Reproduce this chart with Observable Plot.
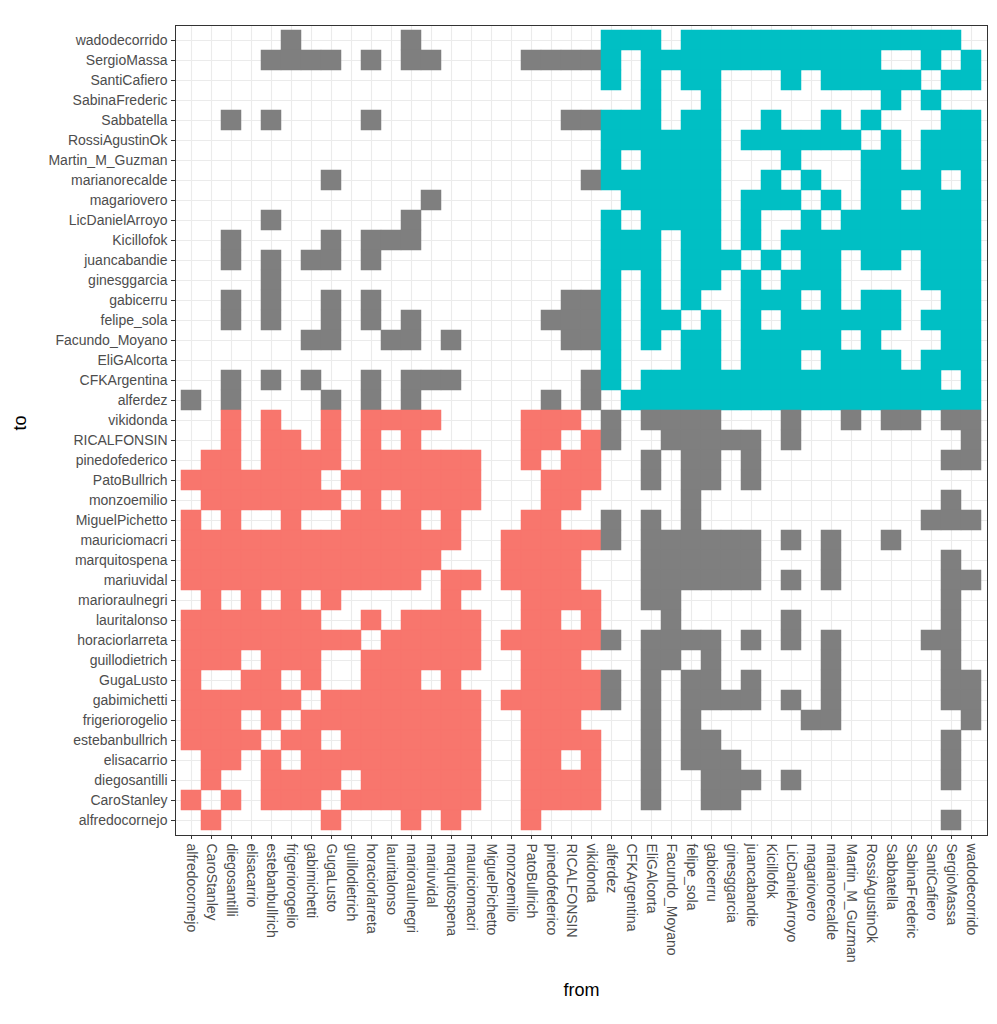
<!DOCTYPE html>
<html><head><meta charset="utf-8">
<script src="https://cdn.jsdelivr.net/npm/d3@7"></script>
<script src="https://cdn.jsdelivr.net/npm/@observablehq/plot@0.6"></script>
<style>body{margin:0;background:#fff}</style>
</head><body><div id="chart"></div>
<script>
// group A (first 21) and group B (last 19), axis order
const groupA = ["alfredocornejo","CaroStanley","diegosantilli","elisacarrio","estebanbullrich","frigeriorogelio","gabimichetti","GugaLusto","guillodietrich","horaciorlarreta","lauritalonso","marioraulnegri","mariuvidal","marquitospena","mauriciomacri","MiguelPichetto","monzoemilio","PatoBullrich","pinedofederico","RICALFONSIN","vikidonda"];
const groupB = ["alferdez","CFKArgentina","EliGAlcorta","Facundo_Moyano","felipe_sola","gabicerru","ginesggarcia","juancabandie","Kicillofok","LicDanielArroyo","magariovero","marianorecalde","Martin_M_Guzman","RossiAgustinOk","Sabbatella","SabinaFrederic","SantiCafiero","SergioMassa","wadodecorrido"];
const nodes = groupA.concat(groupB);
// "to" rows, top to bottom
const toRows = nodes.slice().reverse();
// for each "to" row (top to bottom): indices into nodes of the "from" accounts with a link
const fromLinks = [
 [5,11,21,22,23,25,26,27,28,29,30,31,32,33,34,35,36,37,38],
 [4,5,6,7,9,11,12,17,18,19,20,21,23,24,25,26,27,28,29,30,31,32,33,34,37,39],
 [21,23,25,26,30,32,33,34,35,36,38,39],
 [23,26,35,37],
 [2,4,9,19,20,21,22,23,25,26,29,32,34,38,39],
 [21,22,23,24,25,26,28,29,30,31,32,33,35,37,38,39],
 [21,23,24,25,26,30,34,35,37,38,39],
 [7,20,21,22,23,24,25,26,29,31,34,35,36,37,39],
 [12,22,23,24,25,26,28,29,30,32,34,35,37,38,39],
 [4,11,21,23,24,25,26,28,31,33,34,35,36,37,38,39],
 [2,7,9,10,11,21,22,23,25,26,28,30,31,32,33,34,35,36,37,38,39],
 [2,4,6,7,9,21,22,23,25,26,27,29,31,32,34,35,37,38,39],
 [4,21,23,25,26,28,30,31,32,37,38,39],
 [2,4,7,9,19,20,21,23,25,28,29,30,32,34,35,38,39],
 [2,4,7,9,11,18,19,20,21,23,24,26,28,30,31,32,33,34,35,37,38,39],
 [6,7,10,11,13,19,20,21,23,25,26,28,29,30,31,32,34,38,39],
 [21,25,26,28,29,30,32,33,34,35,37,38,39],
 [2,4,6,9,11,12,13,20,21,23,24,25,26,27,28,29,30,31,32,33,34,35,36,37,39],
 [0,2,7,9,11,18,20,22,23,24,25,26,27,28,29,30,31,32,33,34,35,36,37,38,39],
 [2,4,7,9,10,11,12,17,18,19,21,23,24,25,26,30,33,35,36,38,39],
 [2,4,5,7,9,11,17,18,20,21,24,25,26,27,28,30,39],
 [1,2,4,5,6,7,9,10,11,12,13,14,17,19,20,23,25,26,28,38,39],
 [0,1,2,3,4,5,6,8,9,10,11,12,13,14,18,19,20,23,25,26,28],
 [1,2,3,4,5,6,7,9,11,12,13,14,18,19,25,38],
 [0,2,5,8,9,10,11,13,17,18,21,23,25,37,38,39],
 [0,1,2,3,4,5,6,7,8,9,10,11,12,13,16,17,18,19,20,21,23,24,25,26,27,28,30,32,35],
 [0,1,2,3,4,5,6,7,8,9,10,11,12,16,17,18,19,23,24,25,26,27,28,32,38],
 [0,1,2,3,4,5,6,7,8,9,10,11,13,14,16,17,18,19,23,24,25,26,27,28,30,32,38,39],
 [1,3,5,7,13,17,18,19,20,23,24,38],
 [0,1,2,3,4,5,6,9,11,12,13,14,17,18,20,24,30,38],
 [0,1,2,3,4,5,6,7,8,10,11,12,13,14,16,17,18,19,20,21,23,24,25,26,28,30,32,37,38],
 [0,1,2,4,5,6,9,10,11,12,13,14,17,18,19,23,24,26,32,38],
 [0,3,4,6,9,10,11,13,17,18,19,20,21,23,25,26,28,32,38,39],
 [0,1,2,3,4,5,7,8,9,10,11,12,13,14,16,17,18,19,20,21,23,25,26,27,28,30,32,38,39],
 [0,1,2,4,6,7,8,9,10,11,12,13,14,17,18,19,23,25,31,32,39],
 [0,1,2,3,5,6,8,9,10,11,12,13,14,17,18,19,20,23,25,26,38],
 [1,2,4,6,7,8,9,10,11,12,13,14,17,18,20,23,25,26,27,38],
 [1,4,5,6,7,9,10,11,12,13,14,17,18,19,20,23,26,27,28,30,38],
 [0,2,4,5,6,8,9,10,11,12,13,14,17,18,19,20,23,26,27],
 [1,7,11,13,17,38]
];
const kinds = ["A","B","cross"];
const kindColors = ["#F8766D","#00BFC4","#7F7F7F"];

const inA = new Set(groupA);
const cells = [];
fromLinks.forEach((list, r) => {
  const to = toRows[r];
  list.forEach(i => {
    const from = nodes[i];
    const a = inA.has(from), b = inA.has(to);
    cells.push({from, to, kind: a && b ? "A" : (!a && !b ? "B" : "cross")});
  });
});

const font = "'Liberation Sans', Arial, Helvetica, sans-serif";
const chart = Plot.plot({
  width: 997, height: 1024,
  marginLeft: 175, marginRight: 10, marginTop: 25, marginBottom: 189,
  style: {fontFamily: font, background: "#fff"},
  x: {domain: nodes, padding: 0, label: null},
  y: {domain: toRows, padding: 0, label: null},
  color: {domain: kinds, range: kindColors},
  marks: [
    Plot.gridX({stroke: "#EBEBEB", strokeOpacity: 1, strokeWidth: 1.1}),
    Plot.gridY({stroke: "#EBEBEB", strokeOpacity: 1, strokeWidth: 1.1}),
    Plot.cell(cells, {x: "from", y: "to", fill: "kind", stroke: "kind", strokeWidth: 0.5, inset: 0}),
    Plot.frame({stroke: "#333333", strokeWidth: 1}),
    Plot.axisX({tickRotate: 90, textAnchor: "start", tickSize: 4, tickPadding: 4, fontSize: 14, fill: "#4D4D4D", stroke: "#333333", label: null}),
    Plot.axisY({tickSize: 4, tickPadding: 4, fontSize: 14, fill: "#4D4D4D", stroke: "#333333", label: null}),
    Plot.text(["from"], {frameAnchor: "bottom", dy: 160, fontSize: 18, fill: "#000", fontFamily: font}),
    Plot.text(["to"], {frameAnchor: "left", dx: -155, rotate: -90, fontSize: 18, fill: "#000", fontFamily: font})
  ]
});
document.getElementById("chart").appendChild(chart);
</script>
</body></html>
